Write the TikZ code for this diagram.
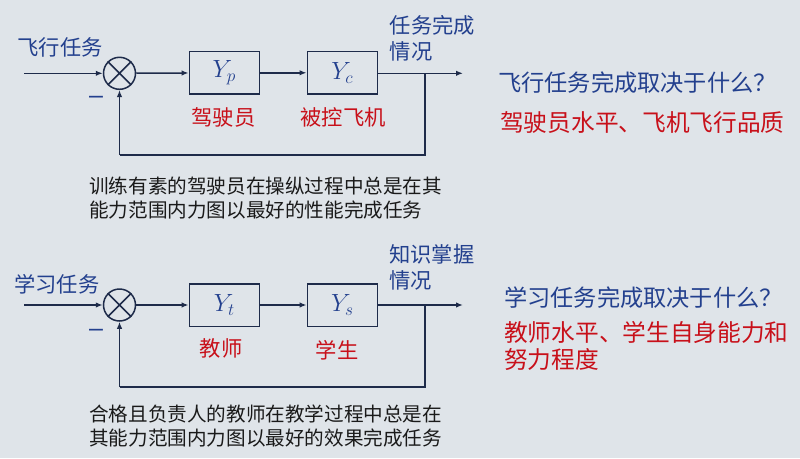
\documentclass[tikz,border=0pt]{standalone}
\usepackage{fontspec}
\setmainfont{Liberation Sans}
\newfontfamily\cjk{Noto Sans CJK SC}
\usetikzlibrary{arrows.meta}
\definecolor{bgc}{HTML}{DFE4E9}
\definecolor{ln}{HTML}{1E2B4A}
\definecolor{bluet}{HTML}{23408E}
\definecolor{redt}{HTML}{C8101A}
\definecolor{blackt}{HTML}{1A1A1A}
\begin{document}
\begin{tikzpicture}[x=1pt,y=-1pt,
  wire/.style={draw=ln,line width=1.5pt},
  arr/.style={wire,-{Latex[length=7pt,width=5.5pt]}},
  blk/.style={draw=ln,line width=1.5pt,minimum width=70pt,minimum height=42.5pt,inner sep=0pt,font=\fontsize{25}{28}\selectfont,text=bluet},
  sumj/.style={draw=ln,line width=1.5pt,circle,minimum size=32pt,inner sep=0pt},
  lbl/.style={font=\cjk\fontsize{21.3}{26}\selectfont,text=bluet,inner sep=0pt},
  rlbl/.style={font=\cjk\fontsize{21.3}{26}\selectfont,text=redt,inner sep=0pt},
  desc/.style={font=\cjk\fontsize{19.6}{24}\selectfont,text=blackt,inner sep=0pt,align=left,anchor=west},
  q/.style={font=\cjk\fontsize{23.2}{27}\selectfont,text=bluet,inner sep=0pt,anchor=west},
  ans/.style={font=\cjk\fontsize{23.7}{27}\selectfont,text=redt,inner sep=0pt,anchor=west,align=left},
  minus/.style={font=\fontsize{25}{28}\selectfont,text=bluet,inner sep=0pt}
]
\fill[bgc] (0,0) rectangle (800,458);
\useasboundingbox (0,0) rectangle (800,458);

% ---------- top diagram ----------
\coordinate (in1) at (24,73.3);
\node[sumj] (s1) at (119.5,73.3) {};
\draw[ln,line width=1.5pt] (s1.north west) -- (s1.south east) (s1.north east) -- (s1.south west);
\node[blk] (b1) at (224.3,72.8) {$Y_p$};
\node[blk] (b2) at (342.3,72.8) {$Y_c$};
\coordinate (br1) at (425,73.3);
\coordinate (out1) at (463,73.3);
\coordinate (fb1r) at (425,155);
\coordinate (fb1l) at (119.5,155);
\draw[arr] (in1) -- (s1);
\draw[arr] (s1) -- (b1);
\draw[arr] (b1) -- (b2);
\draw[arr] (b2.east |- out1) -- (out1);
\draw[wire] (br1) -- (fb1r) -- (fb1l);
\draw[arr] (fb1l) -- (s1.south);
\node[lbl] (t1in) at (60,47) {飞行任务};
\node[minus] (m1) at (96,100) {–};
\node[rlbl] (t1a) at (223.5,117) {驾驶员};
\node[rlbl] (t1b) at (343,117) {被控飞机};
\node[lbl,align=left,anchor=north west] (t1out) at (389.5,15.5) {任务完成\\[-0.5pt]情况};
\node[desc] (d1) at (89,198) {训练有素的驾驶员在操纵过程中总是在其\\能力范围内力图以最好的性能完成任务};

% ---------- bottom diagram ----------
\coordinate (in2) at (24,305);
\node[sumj] (s2) at (119.5,305) {};
\draw[ln,line width=1.5pt] (s2.north west) -- (s2.south east) (s2.north east) -- (s2.south west);
\node[blk] (b3) at (224.3,305) {$Y_t$};
\node[blk] (b4) at (342.3,305) {$Y_s$};
\coordinate (br2) at (425,305);
\coordinate (out2) at (463,305);
\coordinate (fb2r) at (425,387);
\coordinate (fb2l) at (119.5,387);
\draw[arr] (in2) -- (s2);
\draw[arr] (s2) -- (b3);
\draw[arr] (b3) -- (b4);
\draw[arr] (b4.east |- out2) -- (out2);
\draw[wire] (br2) -- (fb2r) -- (fb2l);
\draw[arr] (fb2l) -- (s2.south);
\node[lbl] (t2in) at (57,284) {学习任务};
\node[minus] (m2) at (96,333) {–};
\node[rlbl] (t2a) at (221,348) {教师};
\node[rlbl] (t2b) at (337,350) {学生};
\node[lbl,align=left,anchor=north west] (t2out) at (389,244.5) {知识掌握\\[-0.5pt]情况};
\node[desc] (d2) at (89,426) {合格且负责人的教师在教学过程中总是在\\其能力范围内力图以最好的效果完成任务};

% ---------- right texts ----------
\node[q] (q1) at (498,83) {飞行任务完成取决于什么？};
\node[ans] (a1) at (500,123) {驾驶员水平、飞机飞行品质};
\node[q] (q2) at (504,298) {学习任务完成取决于什么？};
\node[ans] (a2) at (504,346) {教师水平、学生自身能力和\\努力程度};
\end{tikzpicture}
\end{document}
